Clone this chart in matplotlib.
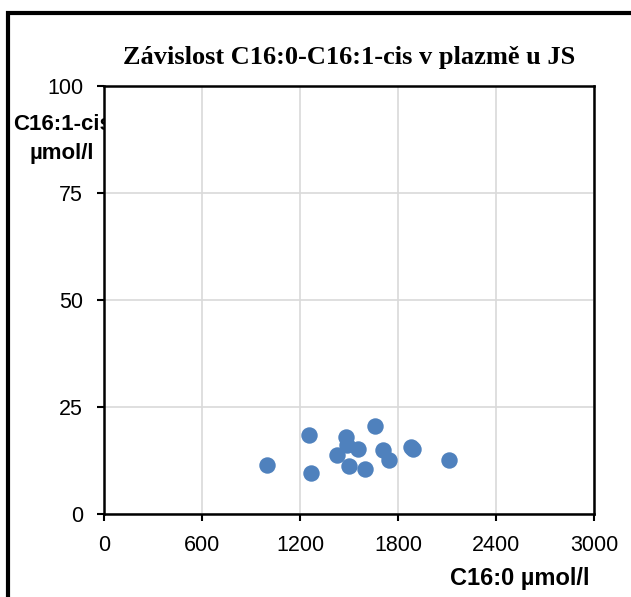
import matplotlib.pyplot as plt
from matplotlib.patches import Rectangle

# C16:0 (x) and C16:1-cis (y) in umol/l
c16_0 = [996, 1253, 1269, 1483, 1486, 1425, 1557, 1500, 1596, 1661, 1710, 1743, 1880, 1894, 2112]
c16_1 = [11.4, 18.5, 9.6, 18.1, 16.1, 13.9, 15.1, 11.1, 10.6, 20.6, 15.0, 12.6, 15.7, 15.1, 12.6]
xticks = [0, 600, 1200, 1800, 2400, 3000]
yticks = [0, 25, 50, 75, 100]

plt.rcParams['font.family'] = ['Liberation Sans', 'DejaVu Sans']

fig = plt.figure(figsize=(6.31, 5.97), dpi=100)
ax = fig.add_axes([104/631, 83/597, 490/631, 428/597])

ax.scatter(c16_0, c16_1, s=140, color='#4F81BD', zorder=3, linewidths=0)

ax.set_xlim(0, 3000)
ax.set_ylim(0, 100)
ax.set_xticks(xticks)
ax.set_yticks(yticks)
ax.grid(True, color='#D9D9D9', linewidth=1.2)
ax.set_axisbelow(True)
for s in ax.spines.values():
    s.set_linewidth(1.8)
ax.tick_params(axis='both', direction='out', length=5, width=1.5, labelsize=15.5, colors='black')
ax.tick_params(axis='x', pad=10)
ax.tick_params(axis='y', pad=10)

ax.set_title('Závislost C16:0-C16:1-cis v plazmě u JS', family='Liberation Serif',
             fontweight='bold', fontsize=19, pad=16)

# y label sits partly under the axes, like the original
fig.text(62/631, 1-139/597, 'C16:1-cis\nµmol/l', ha='center', va='center',
         fontsize=16, fontweight='bold', linespacing=1.55, zorder=-1)
fig.text(590/631, 1-578/597, 'C16:0 µmol/l', ha='right', va='center',
         fontsize=17, fontweight='bold')

# outer frame of the chart area
fig.patches.append(Rectangle((8/631, -0.2), 1.2, 1.2 - 13/597,
                             transform=fig.transFigure, fill=False, lw=3,
                             edgecolor='black'))

fig.savefig('out.png', dpi=100)
